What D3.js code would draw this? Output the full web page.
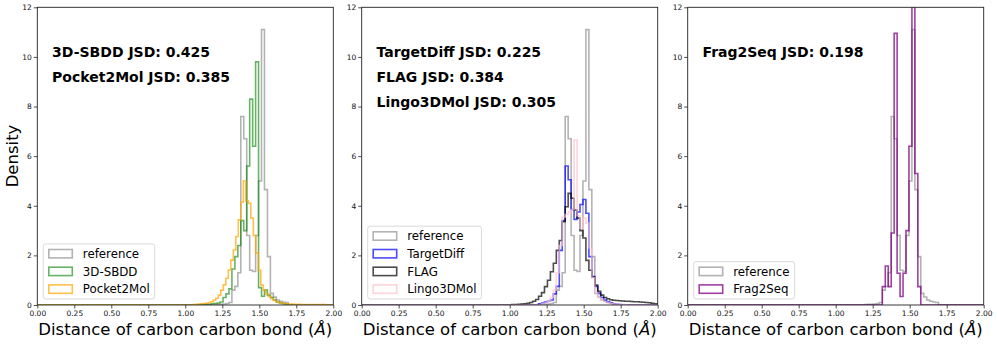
<!DOCTYPE html>
<html>
<head>
<meta charset="utf-8">
<script src="https://cdn.jsdelivr.net/npm/d3@7"></script>
<style>
  body { margin: 0; background: #fff; }
  text { font-family: "DejaVu Sans", sans-serif; }
</style>
</head>
<body>
<svg id="chart"></svg>
<script>
// ---- data (density per bin) ----
const binW = 0.02;

const refStart = 1.195;
const refDensity = [0.02, 0.03, 0.03, 0.04, 0.06, 0.1, 0.6, 0.75, 1.3, 7.6, 6.7, 2.8, 1.4, 1.35,
  2.8, 5.0, 11.1, 4.65, 1.95, 0.47, 0.32, 0.2, 0.15, 0.12, 0.1];

const sbddStart = 1.095;
const sbddDensity = [0.02, 0.02, 0.03, 0.03, 0.05, 0.06, 0.08, 0.12, 0.3, 0.45, 0.65, 1.45, 1.95,
  2.4, 3.4, 3.0, 5.6, 8.3, 6.4, 9.8, 0.7, 0.35, 0.6, 0.4, 0.3, 0.2, 0.12, 0.08, 0.05, 0.03];

const p2mStart = 1.054;
const p2mBinW = 0.0169;
const p2mDensity = [0.02, 0.03, 0.04, 0.05, 0.06, 0.07, 0.1, 0.13, 0.2, 0.27, 0.4, 0.6, 0.81, 1.08,
  1.41, 1.81, 2.22, 2.76, 3.43, 4.14, 5.0, 4.2, 4.1, 3.5, 2.8, 2.1, 1.4, 0.8, 0.6, 0.45, 0.34, 0.25,
  0.18, 0.13, 0.1, 0.08, 0.06, 0.05, 0.04, 0.04, 0.03, 0.03, 0.03, 0.02, 0.02, 0.02, 0.02, 0.02,
  0.02, 0.02, 0.02, 0.02, 0.02];

const tdStart = 1.195;
const tdDensity = [0.05, 0.08, 0.12, 0.15, 0.2, 0.45, 0.75, 2.2, 3.4, 5.6, 5.05, 3.85, 3.45, 3.75,
  4.05, 4.25, 3.7, 1.95, 1.15, 0.75, 0.47, 0.3, 0.2, 0.12, 0.08, 0.05, 0.03, 0.02];

const flagStart = 1.015;
const flagDensity = [0.02, 0.02, 0.03, 0.04, 0.05, 0.07, 0.1, 0.15, 0.22, 0.35, 0.5, 0.74, 1.0,
  1.34, 1.68, 2.2, 2.6, 3.36, 3.96, 4.5, 4.3, 3.83, 3.5, 3.0, 2.7, 1.8, 1.4, 1.12, 0.8, 0.55, 0.4,
  0.3, 0.25, 0.21, 0.19, 0.18, 0.17, 0.16, 0.15, 0.15, 0.14, 0.13, 0.13, 0.12, 0.11, 0.1, 0.09,
  0.07, 0.05, 0.03];

const lingoStart = 1.215;
const lingoDensity = [0.05, 0.08, 0.15, 0.3, 0.6, 1.3, 2.4, 3.55, 3.65, 3.75, 3.85, 6.65, 3.6, 3.1,
  3.5, 3.3, 2.3, 1.1, 0.5, 0.3, 0.2, 0.13, 0.09, 0.06, 0.04, 0.03, 0.02, 0.02, 0.01];

const f2sStart = 1.315;
const f2sDensity = [0.74, 1.57, 0.74, 2.9, 10.95, 1.28, 0.34, 1.28, 3.0, 6.4, 12.6, 5.3, 0.74];

const jsdNames = [["3D-SBDD", "Pocket2Mol"], ["TargetDiff", "FLAG", "Lingo3DMol"], ["Frag2Seq"]];
const jsdValues = [["0.425", "0.385"], ["0.225", "0.384", "0.305"], ["0.198"]];

const xTicks = [0, 0.25, 0.5, 0.75, 1.0, 1.25, 1.5, 1.75, 2.0];
const yTicks = [0, 2, 4, 6, 8, 10, 12];

// ---- series styling ----
const ref   = {name: "reference",  start: refStart,   bw: binW,    vals: refDensity,   color: "#808080", op: 0.6};
const sbdd  = {name: "3D-SBDD",    start: sbddStart,  bw: binW,    vals: sbddDensity,  color: "#008000", op: 0.6};
const p2m   = {name: "Pocket2Mol", start: p2mStart,   bw: p2mBinW, vals: p2mDensity,   color: "#ffa500", op: 0.7};
const td    = {name: "TargetDiff", start: tdStart,    bw: binW,    vals: tdDensity,    color: "#0000ff", op: 0.7};
const flag  = {name: "FLAG",       start: flagStart,  bw: binW,    vals: flagDensity,  color: "#000000", op: 0.7};
const lingo = {name: "Lingo3DMol", start: lingoStart, bw: binW,    vals: lingoDensity, color: "#ffc0cb", op: 0.7};
const f2s   = {name: "Frag2Seq",   start: f2sStart,   bw: binW,    vals: f2sDensity,   color: "#800080", op: 0.75};

const panelSeries = [[ref, sbdd, p2m], [ref, td, flag, lingo], [ref, f2s]];

const w = 997, h = 344;
const plotTop = 7.3, plotBottom = 305;
const panelLeft = [37.3, 361.7, 687.7];
const panelW = 296;

const svg = d3.select("#chart").attr("width", w).attr("height", h);

function stepPoints(s) {
  const pts = [[0, 0], [s.start, 0]];
  s.vals.forEach(function(v, i) {
    pts.push([s.start + i * s.bw, v]);
    pts.push([s.start + (i + 1) * s.bw, v]);
  });
  pts.push([s.start + s.vals.length * s.bw, 0]);
  pts.push([2, 0]);
  return pts;
}

panelSeries.forEach(function(series, p) {
  const x = d3.scaleLinear().domain([0, 2]).range([panelLeft[p], panelLeft[p] + panelW]);
  const y = d3.scaleLinear().domain([0, 12]).range([plotBottom, plotTop]);
  const g = svg.append("g");

  g.append("clipPath").attr("id", "clip" + p)
    .append("rect").attr("x", x(0)).attr("y", plotTop).attr("width", panelW).attr("height", plotBottom - plotTop);

  const line = d3.line().x(d => x(d[0])).y(d => y(d[1]));
  const plot = g.append("g").attr("clip-path", "url(#clip" + p + ")");
  series.forEach(function(s) {
    plot.append("path")
      .attr("d", line(stepPoints(s)))
      .attr("fill", "none")
      .attr("stroke", s.color)
      .attr("stroke-opacity", s.op)
      .attr("stroke-width", 1.6)
      .attr("stroke-linejoin", "miter");
  });

  // axes
  const xAxis = g.append("g").attr("transform", `translate(0,${plotBottom})`)
    .call(d3.axisBottom(x).tickValues(xTicks).tickFormat(d3.format(".2f")).tickSize(3.5).tickSizeOuter(0));
  const yAxis = g.append("g").attr("transform", `translate(${x(0)},0)`)
    .call(d3.axisLeft(y).tickValues(yTicks).tickFormat(d3.format("d")).tickSize(3.5).tickSizeOuter(0));
  [xAxis, yAxis].forEach(function(a) {
    a.select(".domain").remove();
    a.selectAll(".tick line").attr("stroke", "#222").attr("stroke-width", 0.8);
    a.selectAll(".tick text").attr("font-size", 7.5).attr("font-family", "DejaVu Sans").attr("fill", "#111");
  });
  xAxis.selectAll(".tick text").attr("y", 6);
  yAxis.selectAll(".tick text").attr("x", -5.5);

  g.append("rect")
    .attr("x", x(0)).attr("y", plotTop).attr("width", panelW).attr("height", plotBottom - plotTop)
    .attr("fill", "none").attr("stroke", "#222").attr("stroke-width", 0.9);

  // JSD annotations
  jsdNames[p].forEach(function(n, i) {
    g.append("text")
      .attr("x", x(0.1)).attr("y", y(10 - i))
      .attr("font-size", 14).attr("font-weight", "bold").attr("fill", "#000")
      .text(n + " JSD: " + jsdValues[p][i]);
  });

  // x label
  const xl = g.append("text")
    .attr("x", x(1)).attr("y", 334.5)
    .attr("text-anchor", "middle").attr("font-size", 16.5).attr("fill", "#000");
  xl.append("tspan").text("Distance of carbon carbon bond (");
  xl.append("tspan").attr("font-style", "italic").text("Å");
  xl.append("tspan").text(")");

  // legend
  const rowH = 17.7;
  const boxH = series.length * rowH + 2;
  const boxX = x(0) + 6, boxY = plotBottom - 6 - boxH;
  const leg = g.append("g");
  const box = leg.append("rect")
    .attr("x", boxX).attr("y", boxY).attr("height", boxH).attr("rx", 2.5)
    .attr("fill", "#fff").attr("fill-opacity", 0.8)
    .attr("stroke", "#d6d6d6").attr("stroke-width", 0.9);
  let maxW = 0;
  series.forEach(function(s, i) {
    const cy = boxY + 9.8 + i * rowH;
    leg.append("rect")
      .attr("x", boxX + 5.5).attr("y", cy - 4.2).attr("width", 23.5).attr("height", 8.4)
      .attr("fill", "none").attr("stroke", s.color).attr("stroke-opacity", s.op).attr("stroke-width", 1.6);
    const t = leg.append("text")
      .attr("x", boxX + 39.5).attr("y", cy + 4.2)
      .attr("font-size", 11.8).attr("fill", "#000").text(s.name);
    maxW = Math.max(maxW, t.node().getComputedTextLength());
  });
  box.attr("width", 39.5 + maxW + 5);
});

// y label
svg.append("text")
  .attr("transform", "translate(17.5,156)rotate(-90)")
  .attr("text-anchor", "middle").attr("font-size", 16.5).attr("fill", "#000")
  .text("Density");
</script>
</body>
</html>
